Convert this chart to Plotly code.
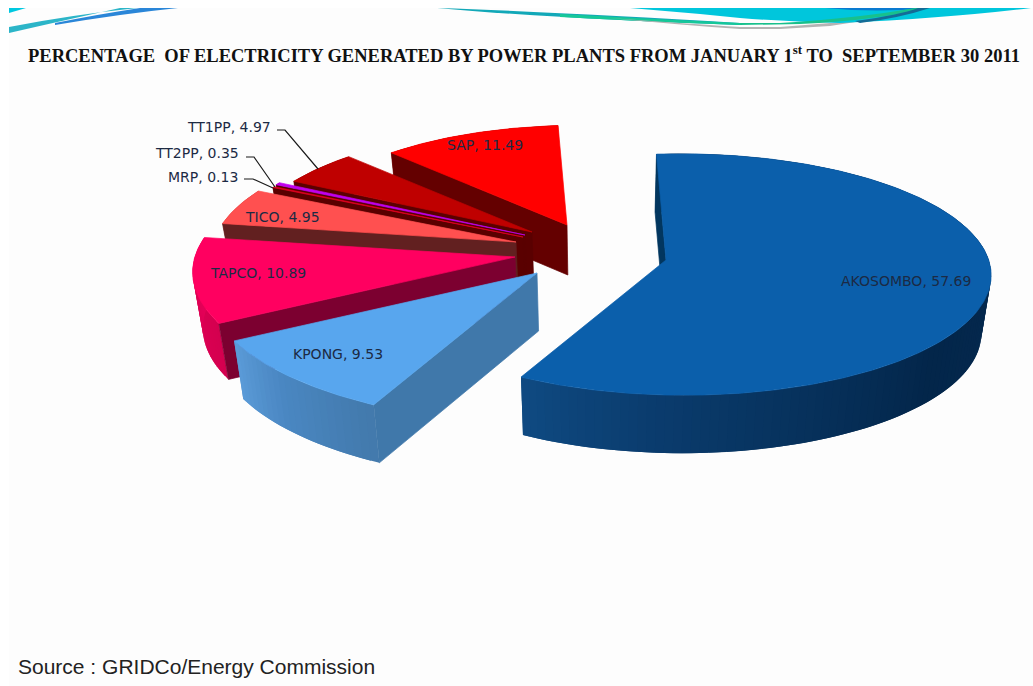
import math
import plotly.graph_objects as go

# Share of generation per plant, clockwise from the top of the pie
plants = ["AKOSOMBO", "KPONG", "TAPCO", "TICO", "MRP", "TT2PP", "TT1PP", "SAP"]
shares = [57.69, 9.53, 10.89, 4.95, 0.13, 0.35, 4.97, 11.49]

TITLE = "PERCENTAGE  OF ELECTRICITY GENERATED BY POWER PLANTS FROM JANUARY 1<sup>st</sup> TO  SEPTEMBER 30 2011"
SOURCE = "Source : GRIDCo/Energy Commission"

# Styling per plant
top_colors = ["#0b5fab", "#58a6ee", "#ff0060", "#ff5050", "#e00020", "#c000f0", "#bf0000", "#ff0000"]
cut_colors = ["#02365f", "#4078aa", "#7c0030", "#622020", "#5a0000", "#5a0000", "#5a0000", "#640000"]
rim_stops = [
    [(0, "#05294f"), (90, "#05294f"), (130, "#03264a"), (180, "#0a3b6c"), (206, "#0f4a82")],
    [(205, "#4279ab"), (225, "#4a87c2"), (240, "#5b9bd8")],
    [(240, "#d4004f"), (280, "#e8005a")],
    [(279, "#c03c3c"), (297, "#c03c3c")],
    [(297, "#900000"), (298, "#900000")],
    [(297, "#900000"), (299, "#900000")],
    [(298, "#8a0000"), (317, "#8a0000")],
    [(316, "#a00000"), (358, "#a00000")],
]

# Exploded placement of each slice on the page
apex_x = [666, 537, 515, 516, 523, 525, 532, 567]
apex_y = [260, 273, 257, 242, 237, 235, 232, 225]
slice_scale = [0.99, 1.115, 1.09, 1.03, 1.0, 1.0, 0.97, 0.93]
slice_depth = [58, 58, 56, 50, 50, 50, 50, 50]
draw_order = [7, 6, 5, 4, 3, 2, 1, 0]

label_x = [906, 338, 258, 282, 240, 241, 273, 485]
label_y = [281, 354, 273, 217, 177, 153, 127, 145]
label_anchor = ["center", "center", "center", "center", "right", "right", "right", "center"]

FIRST_ANGLE = -2.0
RADIUS_X = 309.0
RADIUS_Y = 120.0
PERSPECTIVE_Z = 0.12
PERSPECTIVE_X = 0.052
VANISH_X = 600.0
VANISH_RATE = 0.025


def project(theta_deg, radius, i):
    """Map a point on the pie's disc onto the page with a mild perspective."""
    t = math.radians(theta_deg)
    gx = radius * math.sin(t)
    gz = -radius * math.cos(t)
    w = 1 - PERSPECTIVE_Z * gz - PERSPECTIVE_X * gx
    k = slice_scale[i]
    return apex_x[i] + k * RADIUS_X * gx / w, apex_y[i] + k * RADIUS_Y * gz / w


def drop(point, i):
    """Lower a top-face point to the bottom of the slice."""
    x, y = point
    return x + (VANISH_X - x) * VANISH_RATE, y + slice_depth[i]


def hex_rgb(value):
    return tuple(int(value[j:j + 2], 16) for j in (1, 3, 5))


def rim_color(stops, theta):
    if theta <= stops[0][0]:
        return stops[0][1]
    for (a0, c0), (a1, c1) in zip(stops, stops[1:]):
        if theta <= a1:
            f = (theta - a0) / (a1 - a0)
            r0, r1 = hex_rgb(c0), hex_rgb(c1)
            return "rgb({},{},{})".format(*[round(p + (q - p) * f) for p, q in zip(r0, r1)])
    return stops[-1][1]


def polygon(points, color, width=0.7):
    return go.Scatter(
        x=[p[0] for p in points] + [points[0][0]],
        y=[p[1] for p in points] + [points[0][1]],
        mode="lines",
        fill="toself",
        fillcolor=color,
        line=dict(color=color, width=width),
        hoverinfo="skip",
        showlegend=False,
    )


starts, running = [], FIRST_ANGLE
for share in shares:
    starts.append(running)
    running += share * 3.6

fig = go.Figure()

for i in draw_order:
    a0 = starts[i]
    a1 = a0 + shares[i] * 3.6
    apex = (apex_x[i], apex_y[i])

    # Outer wall, split into overlapping bands so the shading can vary along the arc
    bands = max(2, int((a1 - a0) / 1.5))
    for b in range(bands):
        t0 = a0 + (a1 - a0) * b / bands
        t1 = a0 + (a1 - a0) * (b + 1) / bands
        tail = min(a1, t1 + (a1 - a0) / bands)
        arc = [project(t0 + (tail - t0) * s / 2, 1, i) for s in range(3)]
        fig.add_trace(polygon(arc + [drop(p, i) for p in reversed(arc)],
                              rim_color(rim_stops[i], (t0 + t1) / 2), width=0))

    # Cut face on the leading edge
    corner = project(a0, 1, i)
    fig.add_trace(polygon([apex, corner, drop(corner, i), drop(apex, i)], cut_colors[i]))

    # Top face
    steps = max(3, int((a1 - a0) * 1.5))
    arc = [project(a0 + (a1 - a0) * s / steps, 1, i) for s in range(steps + 1)]
    fig.add_trace(polygon([apex] + arc, top_colors[i]))

# Leader lines for the small slices
leaders = {
    "TT1PP": ([277, 285, 318], [130, 130, 169]),
    "TT2PP": ([246, 254, 275], [157, 157, 187]),
    "MRP": ([244, 253, 273], [179, 179, 188]),
}
for xs, ys in leaders.values():
    fig.add_trace(go.Scatter(x=xs, y=ys, mode="lines", line=dict(color="#1a1a1a", width=1.2),
                             hoverinfo="skip", showlegend=False))

annotations = [
    dict(x=x, y=y, xref="x", yref="y", text=f"{name}, {share}", showarrow=False,
         xanchor=anchor, yanchor="middle",
         font=dict(family="DejaVu Sans", size=14, color="#1c2a44"))
    for name, share, x, y, anchor in zip(plants, shares, label_x, label_y, label_anchor)
]
annotations.append(dict(x=26, y=54, xref="x", yref="y", text=f"<b>{TITLE}</b>", showarrow=False,
                        xanchor="left", yanchor="middle",
                        font=dict(family="Liberation Serif", size=18.5, color="#111111")))
annotations.append(dict(x=16, y=666, xref="x", yref="y", text=SOURCE, showarrow=False,
                        xanchor="left", yanchor="middle",
                        font=dict(family="Liberation Sans", size=21, color="#222222")))


def band(path, color):
    return dict(type="path", path=path, fillcolor=color, line=dict(width=0), layer="below")


# Page banner: coloured ribbons along the top edge
shapes = [
    dict(type="rect", x0=9, x1=1033, y0=8, y1=686, fillcolor="#fdfdfd", line=dict(width=0), layer="below"),
    band("M9,8 L26,8 L9,13 Z", "#00c8e0"),
    band("M9,27 Q70,15 137,8 L120,8 Q70,19 9,33 Z", "#2cb5c8"),
    band("M55,25 Q120,14 178,8 L140,8 Q100,14 55,23 Z", "#2a86d8"),
    band("M437,8 Q560,12 740,23 L740,25 Q560,19 437,8 Z", "#12a8b8"),
    band("M560,14 Q650,19 740,23 L740,25 Q650,22 560,17 Z", "#16c898"),
    band("M610,18 Q690,24 740,27 L780,27 L830,23 L860,19 L862,21 L830,26 L780,29 L740,29 Q680,25 610,18 Z", "#b4b4b4"),
    band("M630,8 L700,14 L740,18 Q790,22 840,23 Q950,18 1031,8 Z", "#00c6dc"),
    band("M825,8 Q880,13 925,8 Z", "#0a7ad0"),
    band("M740,23 L780,23 Q860,18 915,8 L925,8 Q880,20 800,24 L740,25 Z", "#18c08c"),
    band("M855,21 Q900,15 918,8 L930,8 Q900,18 860,23 Z", "#146c96"),
]

fig.update_layout(
    width=1033,
    height=686,
    autosize=False,
    margin=dict(l=0, r=0, t=0, b=0),
    paper_bgcolor="#ffffff",
    plot_bgcolor="rgba(0,0,0,0)",
    showlegend=False,
    annotations=annotations,
    shapes=shapes,
    xaxis=dict(range=[0, 1033], visible=False, fixedrange=True),
    yaxis=dict(range=[686, 0], visible=False, fixedrange=True),
)

fig.write_html("out.html")
